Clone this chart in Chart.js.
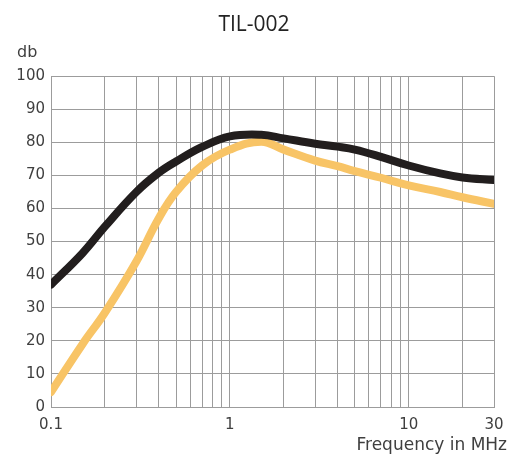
<!DOCTYPE html>
<html>
<head>
<meta charset="utf-8">
<script src="https://cdn.jsdelivr.net/npm/chart.js@4.4.1/dist/chart.umd.min.js"></script>
<style>
  html, body { margin: 0; padding: 0; background: #fff; }
  #wrap { width: 508px; height: 454px; }
</style>
</head>
<body>
<div id="wrap"><canvas id="myChart"></canvas></div>
<script>
// frequencies in MHz
const freqs = [0.1, 0.15, 0.2, 0.3, 0.4, 0.5, 0.7, 1, 1.5, 2, 3, 4, 5, 7, 10, 15, 20, 30]
const blackDb = [37, 46.5, 54.5, 65, 70.8, 74.2, 78.6, 81.8, 82.3, 81.2, 79.6, 78.7, 77.8, 75.6, 73, 70.6, 69.4, 68.6]
const orangeDb = [4.5, 19, 28.5, 44, 57, 65, 73, 77.8, 80.2, 77.8, 74.5, 72.8, 71.3, 69.3, 67, 65, 63.4, 61.4]

// log grid lines and the ones that get a label
const gridFreqs = [0.1, 0.2, 0.3, 0.4, 0.5, 0.6, 0.7, 0.8, 0.9, 1, 2, 3, 4, 5, 6, 7, 8, 9, 10, 20, 30]
const xTickLabels = [0.1, 1, 10, 30]

const gridColor = '#9c9c9c'
const textColor = '#3f3f3f'
const fontFamily = '"DejaVu Sans", sans-serif'

const toPoints = (ys) => freqs.map((f, i) => ({ x: f, y: ys[i] }))

// "db" above the y axis, "Frequency in MHz" below the x axis
const axisText = {
  id: 'axisText',
  afterDraw(chart) {
    const { ctx, chartArea } = chart
    ctx.save()
    ctx.fillStyle = textColor
    ctx.textBaseline = 'alphabetic'
    ctx.font = '16px ' + fontFamily
    ctx.textAlign = 'left'
    ctx.fillText('db', chartArea.left - 34, chartArea.top - 19)
    ctx.font = '17px ' + fontFamily
    ctx.textAlign = 'right'
    ctx.fillText('Frequency in MHz', chartArea.right + 13, chartArea.bottom + 43)
    ctx.restore()
  }
}

const ctx = document.getElementById('myChart')

new Chart(ctx, {
  type: 'line',
  data: {
    datasets: [
      {
        label: 'black',
        data: toPoints(blackDb),
        borderColor: '#221e1e',
        borderWidth: 8,
        borderCapStyle: 'round',
        pointRadius: 0,
        tension: 0.4
      },
      {
        label: 'orange',
        data: toPoints(orangeDb),
        borderColor: '#f8c466',
        borderWidth: 8,
        borderCapStyle: 'round',
        pointRadius: 0,
        tension: 0.4
      }
    ]
  },
  options: {
    responsive: true,
    maintainAspectRatio: false,
    animation: false,
    layout: { padding: { left: 14, right: 14, top: 0, bottom: 0 } },
    plugins: {
      legend: { display: false },
      tooltip: { enabled: false },
      title: {
        display: true,
        text: 'TIL-002',
        color: '#222',
        font: { family: '"Open Sans", sans-serif', size: 21, weight: 'normal' },
        padding: { top: 12, bottom: 39 }
      }
    },
    scales: {
      x: {
        type: 'logarithmic',
        min: 0.1,
        max: 30,
        afterBuildTicks: (scale) => {
          scale.ticks = gridFreqs.map(v => ({ value: v }))
        },
        afterFit: (scale) => {
          scale.height = 47
          scale.paddingLeft = 0
          scale.paddingRight = 0
        },
        grid: { color: gridColor, lineWidth: 1, drawTicks: false },
        border: { color: gridColor },
        ticks: {
          autoSkip: false,
          maxRotation: 0,
          padding: 9,
          color: textColor,
          font: { family: fontFamily, size: 15 },
          callback: (value) => xTickLabels.includes(value) ? String(value) : ''
        }
      },
      y: {
        min: 0,
        max: 100,
        afterFit: (scale) => {
          scale.width = 37
          scale.paddingTop = 0
          scale.paddingBottom = 0
        },
        grid: { color: gridColor, lineWidth: 1, drawTicks: false },
        border: { color: gridColor },
        ticks: {
          stepSize: 10,
          padding: 6,
          color: textColor,
          font: { family: fontFamily, size: 15 }
        }
      }
    }
  },
  plugins: [axisText]
})
</script>
</body>
</html>
